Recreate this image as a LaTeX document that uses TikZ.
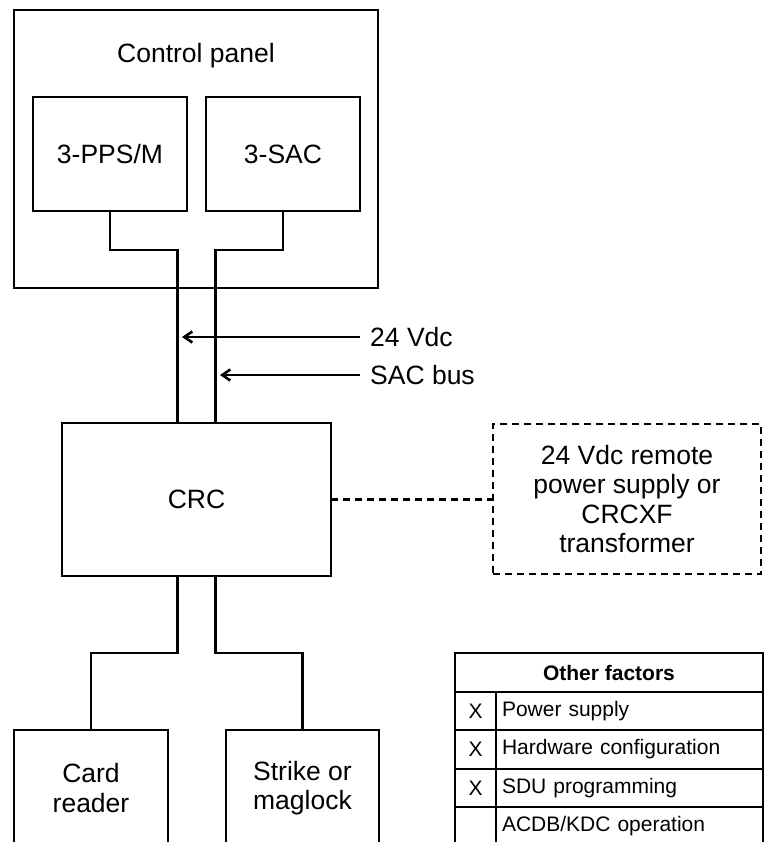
\documentclass[tikz,border=0pt]{standalone}
\usepackage{fontspec}
\setmainfont{Liberation Sans}
\usetikzlibrary{positioning,calc,arrows.meta}
\newcommand{\bigtxt}{\fontsize{26.5}{29.5}\selectfont}
\newcommand{\smalltxt}{\fontsize{21}{25}\selectfont}

\tikzset{
  box/.style={draw,line width=2pt,outer sep=0pt,inner sep=0pt,align=center,font=\bigtxt},
  wire/.style={line width=2.6pt},
  dashbox/.style={draw,line width=2.6pt,dash pattern=on 7pt off 5pt,outer sep=0pt,inner sep=0pt,align=center,font=\bigtxt},
  cell/.style={draw,line width=2pt,outer sep=0pt,inner sep=0pt,minimum height=38.5pt,font=\smalltxt},
  lbl/.style={inner sep=0pt,anchor=west,font=\bigtxt}
}

\begin{document}
\begin{tikzpicture}[x=1pt,y=-1pt,>={Straight Barb[length=8pt,width=11pt]}]
  \useasboundingbox (0,0) rectangle (767,842);
  \clip (0,0) rectangle (767,842);

  % control panel with its two modules
  \node[box,minimum width=364pt,minimum height=278pt] (panel) at (196,149) {};
  \node[font=\bigtxt] (ptitle) at (196,56) {Control panel};
  \node[box,minimum width=154pt,minimum height=114pt] (pps) at (110,154) {3-PPS/M};
  \node[box,minimum width=154pt,minimum height=114pt] (sac) at (283,154) {3-SAC};

  % controller and devices
  \node[box,minimum width=269pt,minimum height=153pt] (crc) at (196.5,499.5) {CRC};
  \node[dashbox,minimum width=268pt,minimum height=150pt] (psu) at (627,499)
    {24 Vdc remote\\power supply or\\CRCXF\\transformer};
  \node[box,minimum width=154pt,minimum height=116pt] (card) at (91,788) {Card\\reader};
  \node[box,minimum width=153pt,minimum height=116pt] (strike) at (302.5,788) {Strike or\\maglock};

  % wiring
  \draw[wire] (pps.south) -- ++(0,39) -| ($(crc.north)+(-19,0)$);
  \draw[wire] (sac.south) -- ++(0,39) -| ($(crc.north)+(19,0)$);
  \draw[wire] ($(crc.south)+(-19,0)$) -- ++(0,77) -| (card.north);
  \draw[wire] ($(crc.south)+(19,0)$) -- ++(0,77) -| (strike.north);
  \draw[line width=2.6pt,dash pattern=on 7pt off 5pt] (crc.east) -- (crc.east -| psu.west);

  % bus labels
  \node[lbl] (vdc) at (370,337) {24 Vdc};
  \node[lbl] (bus) at (370,375) {SAC bus};
  \coordinate (tipvdc) at (182,337);
  \coordinate (tipbus) at (220,375);
  \draw[wire,->] ([xshift=-10pt]vdc.west) -- (tipvdc);
  \draw[wire,->] ([xshift=-10pt]bus.west) -- (tipbus);

  % other factors table
  \node[cell,minimum width=308pt,minimum height=39pt,font=\smalltxt\bfseries] (hdr) at (609,672.5) {Other factors};
  \foreach \chk/\fct [count=\i] in {X/{Power supply},X/{Hardware configuration},X/{SDU programming},{}/{ACDB/KDC operation}} {
    \node[cell,minimum width=41pt] (chk\i) at (475.5,{672.5+38.5*\i}) {\chk};
    \node[cell,text width=255pt,inner xsep=6pt,align=left] (fct\i) at (629.5,{672.5+38.5*\i}) {\fct};
  }
\end{tikzpicture}
\end{document}
